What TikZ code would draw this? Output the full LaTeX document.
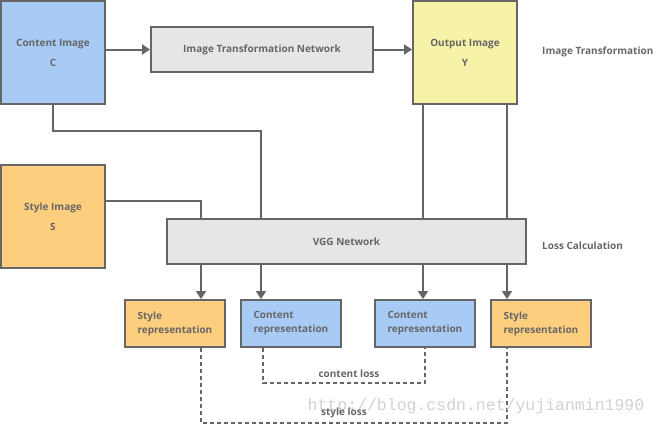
\documentclass[tikz,border=0pt]{standalone}
\usepackage{fontspec}
\setmainfont{Open Sans}
\newfontfamily\wmfont{Liberation Mono}
\usetikzlibrary{arrows.meta,calc}
\definecolor{ln_gray}{RGB}{102, 102, 102}
\definecolor{bx_blue}{RGB}{168, 203, 246}
\definecolor{bx_yellow}{RGB}{246, 243, 168}
\definecolor{bx_orange}{RGB}{254, 206, 127}
\definecolor{bx_gray}{RGB}{230, 230, 230}
\tikzstyle{bx}=[rectangle,draw=ln_gray,line width=2pt,inner sep=0pt,
  text=ln_gray,font=\fontsize{10}{20}\selectfont\bfseries,align=center]
\tikzstyle{img}=[bx,minimum width=104pt,minimum height=103pt,text depth=-3pt]
\tikzstyle{net}=[bx,fill=bx_gray,minimum height=45pt]
\tikzstyle{rep}=[bx,minimum width=100pt,minimum height=47pt,
  align=left,text width=75pt,font=\fontsize{10}{14}\selectfont\bfseries]
\tikzstyle{lbl}=[text=ln_gray,font=\fontsize{10}{12}\selectfont\bfseries,inner sep=0pt]
\tikzstyle{wire}=[draw=ln_gray,line width=2pt]
\tikzstyle{arr}=[wire,-{Triangle[length=8pt,width=10pt]}]
\tikzstyle{loss}=[draw=ln_gray,line width=2pt,dash pattern=on 4pt off 3pt]

\begin{document}
\begin{tikzpicture}[x=1pt,y=-1pt]
        \useasboundingbox (0,0) rectangle (656,426);
        \node[style=img,fill=bx_blue] (content) at (53,52.5) {Content Image\\C};
        \node[style=net,minimum width=222pt] (itn) at (262,49.5) {Image Transformation Network};
        \node[style=img,fill=bx_yellow] (output) at (465,52.5) {Output Image\\Y};
        \node[style=img,fill=bx_orange] (style) at (53,216.5) {Style Image\\S};
        \node[style=net,minimum width=359pt] (vgg) at (346.5,241.5) {VGG Network};
        \node[style=rep,fill=bx_orange] (srep1) at (175,323.5) {Style\\representation};
        \node[style=rep,fill=bx_blue] (crep1) at (291,323.5) {Content\\representation};
        \node[style=rep,fill=bx_blue] (crep2) at (425,323.5) {Content\\representation};
        \node[style=rep,fill=bx_orange] (srep2) at (541,323.5) {Style\\representation};
        \node[style=lbl,anchor=west] (tlbl) at (542,52) {Image Transformation};
        \node[style=lbl,anchor=west] (llbl) at (542,246) {Loss Calculation};
        \coordinate (vs1) at (201,219);
        \coordinate (vc1) at (261,219);
        \coordinate (vc2) at (423,219);
        \coordinate (vs2) at (507,219);
        \draw[style=arr] (content.east |- itn) to (itn.west);
        \draw[style=arr] (itn.east) to (output.west |- itn);
        \draw[style=wire] (content.south) -- ++(0,26) -| (vc1);
        \draw[style=wire] ([yshift=15.5pt]style.east) -| (vs1);
        \draw[style=wire] (output.south -| vc2) to (vc2);
        \draw[style=wire] (output.south -| vs2) to (vs2);
        \draw[style=arr] (vgg.south -| vs1) to (srep1.north -| vs1);
        \draw[style=arr] (vgg.south -| vc1) to (crep1.north -| vc1);
        \draw[style=arr] (vgg.south -| vc2) to (crep2.north -| vc2);
        \draw[style=arr] (vgg.south -| vs2) to (srep2.north -| vs2);
        \draw[style=loss] ([xshift=2pt]crep1.south -| vc1) -- ++(0,35) -| ([xshift=2pt]crep2.south -| vc2);
        \draw[style=loss] (srep1.south -| vs1) -- ++(0,75) -| (srep2.south -| vs2);
        \node[style=lbl] (closs) at (349,374) {content loss};
        \node[text=black!18,font=\wmfont\fontsize{16.5}{18}\selectfont,inner sep=0pt] (wm) at (476,406) {http://blog.csdn.net/yujianmin1990};
        \node[style=lbl] (sloss) at (344,413) {style loss};
    \end{tikzpicture}
\end{document}
